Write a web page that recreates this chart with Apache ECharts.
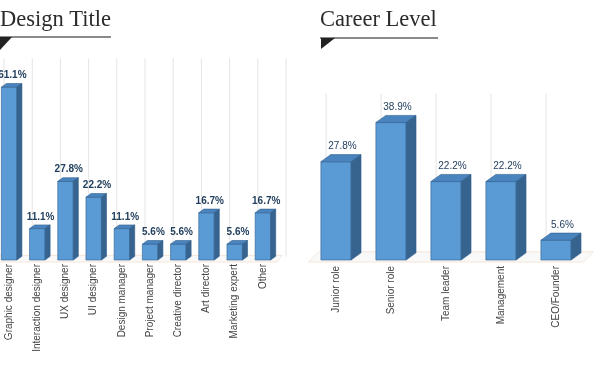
<!DOCTYPE html>
<html>
<head>
<meta charset="utf-8">
<script src="https://cdn.jsdelivr.net/npm/echarts@6/dist/echarts.min.js"></script>
<style>
html,body{margin:0;padding:0;background:#fff;}
#c{width:600px;height:366px;}
</style>
</head>
<body>
<div id="c"></div>
<script>
const designCats = ['Graphic designer','Interaction designer','UX designer','UI designer','Design manager','Project manager','Creative director','Art director','Marketing expert','Other'];
const designVals = [61.1, 11.1, 27.8, 22.2, 11.1, 5.6, 5.6, 16.7, 5.6, 16.7];
const careerCats = ['Junior role','Senior role','Team leader','Management','CEO/Founder'];
const careerVals = [27.8, 38.9, 22.2, 22.2, 5.6];
const designMax = 70;
const careerMax = 45;
const titles = ['Design Title', 'Career Level'];

const chart = echarts.init(document.getElementById('c'), null, {renderer: 'canvas'});

function barRender(labelFont) {
  return function (params, api) {
    const i = api.value(0), v = api.value(1);
    const top = api.coord([i, v]);
    const base = api.coord([i, 0]);
    const p = api.size([1, 0])[0];
    const hw = p * 0.275, dx = p * 0.18, dy = p * 0.13;
    const x0 = top[0] - hw, x1 = top[0] + hw, yT = top[1], yB = base[1];
    const edge = {stroke: '#2f5f8f', lineWidth: 0.6};
    return {
      type: 'group',
      children: [
        {type: 'rect', shape: {x: x0, y: yT, width: 2 * hw, height: yB - yT}, style: Object.assign({fill: '#5b9bd5'}, edge)},
        {type: 'polygon', shape: {points: [[x0, yT], [x1, yT], [x1 + dx, yT - dy], [x0 + dx, yT - dy]]}, style: Object.assign({fill: '#4a84be'}, edge)},
        {type: 'polygon', shape: {points: [[x1, yT], [x1 + dx, yT - dy], [x1 + dx, yB - dy], [x1, yB]]}, style: Object.assign({fill: '#37638f'}, edge)},
        {type: 'text', style: {text: v.toFixed(1) + '%', x: top[0] + dx * 0.65, y: yT - dy - 3, align: 'center', verticalAlign: 'bottom', fill: '#23405e', font: labelFont}}
      ]
    };
  };
}

function bgRender(n, max) {
  return function (params, api) {
    const i = api.value(0);
    const base = api.coord([i, 0]);
    const topY = api.coord([i, max])[1];
    const p = api.size([1, 0])[0];
    const dx = p * 0.18, dy = p * 0.13;
    const children = [];
    const xs = [base[0] - 0.18 * p];
    if (i === n - 1) xs.push(base[0] + 0.82 * p);
    xs.forEach(function (x) {
      children.push({type: 'line', shape: {x1: x, y1: topY - dy, x2: x, y2: base[1] - dy}, style: {stroke: '#e4e4e4', lineWidth: 1}});
    });
    if (i === 0) {
      const last = api.coord([n - 1, 0]);
      const L = base[0] - 0.5 * p, R = last[0] + 0.5 * p;
      const yF = base[1] + 2, yBk = base[1] - dy - 1;
      children.unshift({type: 'polygon', shape: {points: [[L, yF], [R, yF], [R + dx, yBk], [L + dx, yBk]]}, style: {fill: '#f9f9f9', stroke: '#f5e6d8', lineWidth: 1}});
    }
    return {type: 'group', children: children};
  };
}

const labelStyle = {interval: 0, rotate: 90, margin: 4, color: '#444', fontSize: 10, fontFamily: '"Liberation Sans", Arial, sans-serif'};

chart.setOption({
  animation: false,
  grid: [
    {left: -5, width: 282, top: 62, bottom: 106, outerBoundsMode: 'none', containLabel: false},
    {left: 308.5, width: 275, top: 101, bottom: 106, outerBoundsMode: 'none', containLabel: false}
  ],
  xAxis: [
    {type: 'category', gridIndex: 0, data: designCats, axisLine: {show: false}, axisTick: {show: false}, splitLine: {show: false}, axisLabel: labelStyle},
    {type: 'category', gridIndex: 1, data: careerCats, axisLine: {show: false}, axisTick: {show: false}, splitLine: {show: false}, axisLabel: Object.assign({}, labelStyle, {margin: 6})}
  ],
  yAxis: [
    {type: 'value', gridIndex: 0, min: 0, max: designMax, show: false},
    {type: 'value', gridIndex: 1, min: 0, max: careerMax, show: false}
  ],
  graphic: [
    {type: 'text', left: 0, top: 9, style: {text: titles[0], font: '22.5px "Liberation Serif", "Times New Roman", serif', fill: '#2b2b2b'}},
    {type: 'rect', shape: {x: 0, y: 36, width: 111, height: 2}, style: {fill: '#8a8a8a'}},
    {type: 'polygon', shape: {points: [[0, 37], [12, 37], [0, 50]]}, style: {fill: '#222'}},
    {type: 'text', left: 320, top: 9, style: {text: titles[1], font: '22.5px "Liberation Serif", "Times New Roman", serif', fill: '#2b2b2b'}},
    {type: 'rect', shape: {x: 320, y: 37, width: 118, height: 2}, style: {fill: '#8a8a8a'}},
    {type: 'polygon', shape: {points: [[321, 38], [335, 38], [321, 49]]}, style: {fill: '#222'}}
  ],
  series: [
    {type: 'custom', xAxisIndex: 0, yAxisIndex: 0, z: 1, silent: true, renderItem: bgRender(designCats.length, designMax), data: designCats.map(function (c, i) { return [i, 0]; })},
    {type: 'custom', xAxisIndex: 1, yAxisIndex: 1, z: 1, silent: true, renderItem: bgRender(careerCats.length, careerMax), data: careerCats.map(function (c, i) { return [i, 0]; })},
    {type: 'custom', xAxisIndex: 0, yAxisIndex: 0, z: 2, renderItem: barRender('bold 10px "Liberation Sans", Arial, sans-serif'), encode: {x: 0, y: 1}, data: designVals.map(function (v, i) { return [i, v]; })},
    {type: 'custom', xAxisIndex: 1, yAxisIndex: 1, z: 2, renderItem: barRender('10px "Liberation Sans", Arial, sans-serif'), encode: {x: 0, y: 1}, data: careerVals.map(function (v, i) { return [i, v]; })}
  ]
});
</script>
</body>
</html>
